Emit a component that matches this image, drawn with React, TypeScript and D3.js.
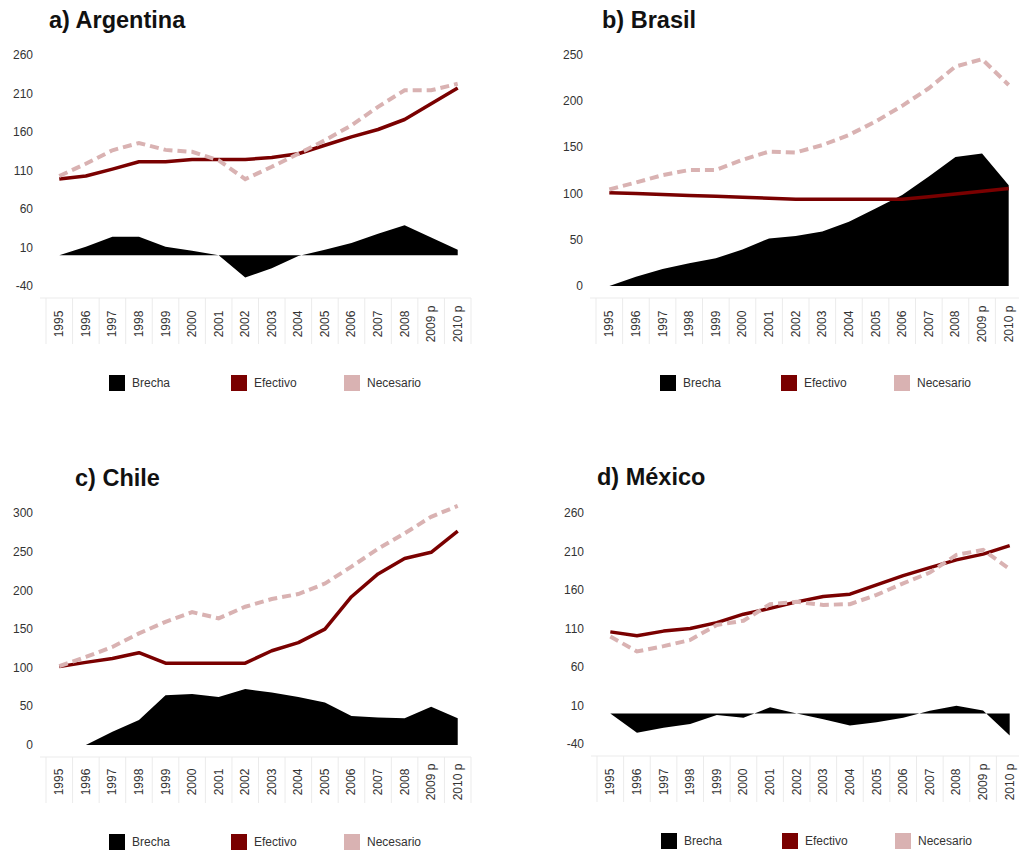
import { useEffect, useRef } from "react";
import * as d3 from "d3";

// data
const years = ["1995", "1996", "1997", "1998", "1999", "2000", "2001", "2002", "2003", "2004", "2005", "2006", "2007", "2008", "2009 p", "2010 p"];

const argBrecha = [0, 11, 24, 24, 11, 6, 0, -29, -17, -1, 7, 16, 28, 39, 23, 7];
const argEfectivo = [99, 103, 112, 121.5, 121.5, 124.5, 124.5, 124.5, 127, 132, 143, 154, 163.5, 176.5, 197, 217.5];
const argNecesario = [103, 119, 136.5, 146, 137, 134.5, 123.5, 99, 115, 132, 149.5, 169, 193, 214.5, 214.5, 223];

const braBrecha = [0, 10, 18.5, 24.5, 30, 39.5, 51.5, 54, 59, 69.5, 84, 98.5, 118.5, 139.5, 143.5, 109];
const braEfectivo = [101, 100, 99, 98, 97, 96, 95, 94, 94, 94, 94, 94, 96.5, 99.5, 102.5, 105.5];
const braNecesario = [104.5, 112, 120, 125.5, 125.5, 136.5, 145.5, 144.5, 152.5, 163.5, 178, 195, 214, 237.5, 245.5, 217.5];

const chiBrecha = [0, 0, 17, 32.5, 64.5, 66, 62, 72.5, 68, 62, 55, 37.5, 35.5, 34.5, 49.5, 34.5];
const chiEfectivo = [101.5, 107, 112, 119.5, 106, 106, 106, 106, 122, 132.5, 150, 192, 221.5, 241.5, 249.5, 277];
const chiNecesario = [102, 114, 127, 144.5, 159.5, 172, 164, 179, 189, 195.5, 209, 231, 254, 274, 295.5, 309.5];

const mexBrecha = [0, -25, -18.5, -13.5, -2, -5.5, 8, 0, -7.5, -15.5, -11.5, -5.5, 3.5, 10, 4, -28.5];
const mexEfectivo = [106, 101, 107, 110.5, 118, 129, 136.5, 145, 152, 155, 167, 179, 189.5, 199.5, 207, 218];
const mexNecesario = [100, 80.5, 87.5, 95.5, 115, 120.5, 142, 145, 141, 142, 154, 169, 183, 206, 212.5, 187.5];

const tickA = [-40, 10, 60, 110, 160, 210, 260];
const tickB = [0, 50, 100, 150, 200, 250];
const tickC = [0, 50, 100, 150, 200, 250, 300];

const legendLabels = ["Brecha", "Efectivo", "Necesario"];

const BRECHA = "#000000";
const EFECTIVO = "#7a0000";
const NECESARIO = "#d9b2b2";

const panels = [
  { title: "a) Argentina", brecha: argBrecha, efectivo: argEfectivo, necesario: argNecesario, ticks: tickA,
    x0: 46, x1: 471, yTop: 55.3, yBot: 286, tickX: 33, axisTop: 298, axisBot: 344, labelY: 324, legY: 383, legX: [109, 231, 344], tx: 49, ty: 28 },
  { title: "b) Brasil", brecha: braBrecha, efectivo: braEfectivo, necesario: braNecesario, ticks: tickB,
    x0: 596, x1: 1022, yTop: 55, yBot: 286, tickX: 583, axisTop: 298, axisBot: 344, labelY: 324, legY: 383, legX: [660, 781, 894], tx: 602, ty: 28 },
  { title: "c) Chile", brecha: chiBrecha, efectivo: chiEfectivo, necesario: chiNecesario, ticks: tickC,
    x0: 46, x1: 471, yTop: 513.3, yBot: 745, tickX: 33, axisTop: 757, axisBot: 803, labelY: 782, legY: 842, legX: [109, 231, 344], tx: 75, ty: 486 },
  { title: "d) México", brecha: mexBrecha, efectivo: mexEfectivo, necesario: mexNecesario, ticks: tickA,
    x0: 597, x1: 1023, yTop: 513.3, yBot: 744.3, tickX: 584, axisTop: 756, axisBot: 802, labelY: 782, legY: 841, legX: [661, 782, 895], tx: 597, ty: 485 },
];

export default function App() {
  const ref = useRef<SVGSVGElement>(null);

  useEffect(() => {
    if (!ref.current) return;
    const svg = d3.select(ref.current);
    svg.selectAll("*").remove();
    const font = "'Liberation Sans', Arial, sans-serif";

    panels.forEach((p) => {
      const g = svg.append("g");
      const xb = d3.scaleBand<string>().domain(years).range([p.x0, p.x1]);
      const x = (d: string) => (xb(d) ?? 0) + xb.bandwidth() / 2;
      const ext = [p.ticks[0], p.ticks[p.ticks.length - 1]];
      const y = d3.scaleLinear().domain(ext).range([p.yBot, p.yTop]);

      // title
      g.append("text")
        .attr("x", p.tx)
        .attr("y", p.ty)
        .attr("font-family", font)
        .attr("font-weight", "bold")
        .attr("font-size", 23.5)
        .attr("fill", "#111")
        .text(p.title);

      // y tick labels
      g.selectAll(".yt")
        .data(p.ticks)
        .join("text")
        .attr("x", p.tickX)
        .attr("y", (d) => y(d))
        .attr("text-anchor", "end")
        .attr("dominant-baseline", "central")
        .attr("font-family", font)
        .attr("font-size", 12)
        .attr("fill", "#333")
        .text((d) => d);

      // brecha area
      const area = d3
        .area<number>()
        .x((_, i) => x(years[i]))
        .y0(y(0))
        .y1((d) => y(d));
      g.append("path").attr("d", area(p.brecha)).attr("fill", BRECHA);

      const line = d3
        .line<number>()
        .x((_, i) => x(years[i]))
        .y((d) => y(d));

      g.append("path")
        .attr("d", line(p.efectivo))
        .attr("fill", "none")
        .attr("stroke", EFECTIVO)
        .attr("stroke-width", 3.5)
        .attr("stroke-linejoin", "round");

      g.append("path")
        .attr("d", line(p.necesario))
        .attr("fill", "none")
        .attr("stroke", NECESARIO)
        .attr("stroke-width", 4)
        .attr("stroke-dasharray", "9 5");

      // x axis strip
      g.append("line")
        .attr("x1", p.x0 - 6)
        .attr("x2", p.x1)
        .attr("y1", p.axisTop)
        .attr("y2", p.axisTop)
        .attr("stroke", "#ebebeb");
      g.selectAll(".xg")
        .data([...years.map((d) => xb(d) ?? 0), p.x1])
        .join("line")
        .attr("x1", (d) => d)
        .attr("x2", (d) => d)
        .attr("y1", p.axisTop)
        .attr("y2", p.axisBot)
        .attr("stroke", "#ebebeb");
      g.selectAll(".xl")
        .data(years)
        .join("text")
        .attr("transform", (d) => `translate(${x(d)},${p.labelY}) rotate(-90)`)
        .attr("text-anchor", "middle")
        .attr("dominant-baseline", "central")
        .attr("font-family", font)
        .attr("font-size", 12)
        .attr("fill", "#333")
        .text((d) => d);

      // legend
      const colors = [BRECHA, EFECTIVO, NECESARIO];
      legendLabels.forEach((label, i) => {
        g.append("rect")
          .attr("x", p.legX[i])
          .attr("y", p.legY - 8)
          .attr("width", 16)
          .attr("height", 16)
          .attr("fill", colors[i]);
        g.append("text")
          .attr("x", p.legX[i] + 23)
          .attr("y", p.legY)
          .attr("dominant-baseline", "central")
          .attr("font-family", font)
          .attr("font-size", 12)
          .attr("fill", "#333")
          .text(label);
      });
    });
  }, []);

  return (
    <svg
      ref={ref}
      width={1019}
      height={852}
      style={{ position: "absolute", left: 0, top: 0, background: "#fff" }}
    />
  );
}
